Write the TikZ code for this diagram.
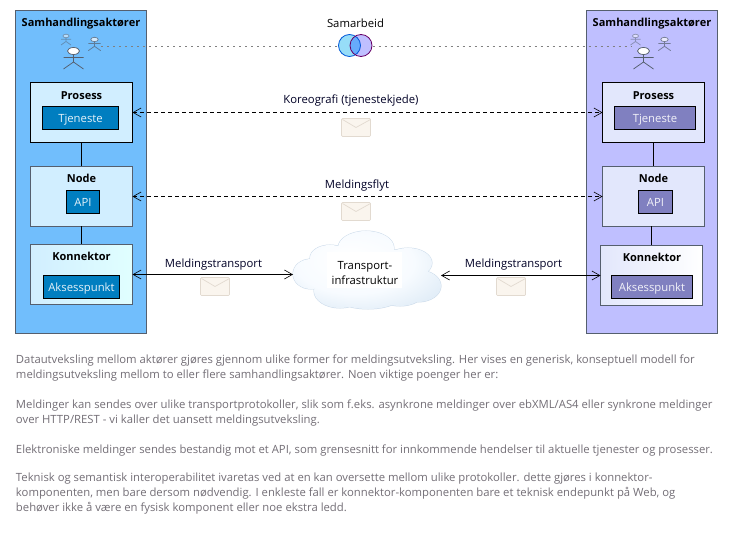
\documentclass[tikz,border=0pt]{standalone}
\usepackage{fontspec}
\setmainfont{Open Sans}
\usetikzlibrary{arrows.meta,calc,shapes.geometric}
\definecolor{lpanel}{RGB}{113,190,252}
\definecolor{rpanel}{RGB}{191,191,255}
\definecolor{lbox}{RGB}{209,238,255}
\definecolor{rbox}{RGB}{226,231,252}
\definecolor{lin}{RGB}{0,126,192}
\definecolor{rin}{RGB}{128,128,192}
\definecolor{edgegrey}{RGB}{85,95,110}
\definecolor{bodytext}{RGB}{115,110,118}
\definecolor{envfill}{RGB}{250,245,238}
\definecolor{envline}{RGB}{226,218,208}
\definecolor{cloudedge}{RGB}{205,220,235}
\pgfdeclareradialshading{cloudshade}{\pgfpoint{-7bp}{8bp}}{
  rgb(0bp)=(1,1,1);
  rgb(20bp)=(.97,.985,1);
  rgb(34bp)=(.87,.92,.965);
  rgb(50bp)=(.72,.80,.88)}
\tikzset{
  x=1pt,y=-1pt,
  every node/.style={font=\fontsize{11.3}{14}\selectfont,inner sep=0pt,outer sep=0pt},
  panel/.style={draw=edgegrey,line width=.9pt,anchor=north west},
  procbox/.style={draw=black,line width=.9pt,anchor=north west},
  softbox/.style={draw=edgegrey,line width=.9pt,anchor=north west},
  inner/.style={draw=black,line width=.8pt,anchor=north west},
  ttl/.style={font=\fontsize{11}{14}\selectfont\bfseries},
  lab/.style={text=black!85!blue,yshift=-1pt},
  lintext/.style={text=white!90!lin,anchor=base},
  rintext/.style={text=white!90!rin,anchor=base},
  barb/.tip={Straight Barb[length=8pt,width=9pt,line width=.6pt]},
  msgdash/.style={line width=.8pt,dash pattern=on 4pt off 3pt,barb-barb},
  msgsolid/.style={line width=.8pt,barb-barb},
  collab/.style={line width=.7pt,draw=black!50,dash pattern=on 2pt off 4pt},
  link/.style={line width=.8pt,draw=black},
  para/.style={anchor=north west,text=bodytext,align=left,font=\fontsize{11.3}{15}\selectfont},
}
\newcommand{\boxat}[6]{\node[#1,minimum width=#4pt,minimum height=#5pt] (#6) at (#2,#3) {};}
\newcommand{\actor}[5]{% name x ytop scale opacity
  \begin{scope}[shift={(#2,#3)},scale=#4,opacity=#5,line width=.75pt]
    \node[draw=edgegrey,fill=white,ellipse,minimum width=#4*12pt,minimum height=#4*7pt] (#1) at (0,4) {};
    \draw[edgegrey] (0,7.5) -- (0,15) (-10,10.5) -- (10,10.5) (0,15) -- (-10,22) (0,15) -- (10,22);
  \end{scope}}
\newcommand{\envelope}[3]{% name x y
  \node[draw=envline,fill=envfill,line width=.7pt,rounded corners=1pt,minimum width=29pt,minimum height=18pt,anchor=north west] (#1) at (#2,#3) {};
  \draw[envline,line width=.7pt] (#2+1,#3+1) -- (#2+14.5,#3+9) -- (#2+29,#3+1);}
\newcommand{\cloudpath}{
  (366,248) ellipse (28 and 17)
  (330,258) ellipse (20 and 13)
  (311,274) ellipse (18 and 15)
  (408,263) ellipse (24 and 15)
  (418,286) ellipse (23 and 16)
  (340,291) ellipse (26 and 17)
  (368,293) ellipse (36 and 16)
  (400,292) ellipse (24 and 14)
  (365,272) ellipse (58 and 26)}
\begin{document}
\begin{tikzpicture}
\useasboundingbox (0,0) rectangle (734,548);
\fill[white] (0,0) rectangle (734,548);

% panels
\boxat{panel,fill=lpanel}{15.5}{10.5}{131}{323}{lp}
\boxat{panel,fill=rpanel}{586.5}{10.5}{131}{323}{rp}
\node[ttl] (lt) at (81,23.5) {Samhandlingsaktører};
\node[ttl] (rt) at (652,23.5) {Samhandlingsaktører};

% actors
\actor{a1}{66}{34}{.5}{.5}
\actor{a2}{94.5}{37}{.62}{.7}
\actor{a3}{73.5}{47}{1}{1}
\actor{b1}{635.5}{34}{.5}{.5}
\actor{b2}{664.5}{37}{.62}{.7}
\actor{b3}{643.5}{47}{1}{1}

% left boxes
\boxat{procbox,fill=lbox}{30.5}{82.5}{102}{60}{lprocess}
\boxat{inner,fill=lin}{42.5}{106.5}{76}{23}{ltj}
\node[ttl] (lprocesst) at (81.5,95.5) {Prosess};
\node[lintext] (ltjt) at ($(ltj.center)+(0,4.5)$) {Tjeneste};
\boxat{softbox,fill=lbox}{30.5}{166.5}{102}{60}{lnode}
\boxat{inner,fill=lin}{66.5}{190.5}{33}{23}{lapi}
\node[ttl] (lnodet) at (81.5,178.5) {Node};
\node[lintext] (lapit) at ($(lapi.center)+(0,4.5)$) {API};
\shade[left color=lbox,right color=white!88!cyan] (30.5,244.5) rectangle (132.5,304.5);
\node[softbox,minimum width=102pt,minimum height=60pt] (lkon) at (30.5,244.5) {};
\boxat{inner,fill=lin}{43.5}{275.5}{76}{23}{lak}
\node[ttl] (lkont) at (81.5,256.5) {Konnektor};
\node[lintext] (lakt) at ($(lak.center)+(0,4.5)$) {Aksesspunkt};
\draw[link] (lprocess.south) -- (lnode.north);
\draw[link] (lnode.south) -- (lkon.north);

% right boxes
\boxat{procbox,fill=rbox}{602.5}{82.5}{102}{60}{rprocess}
\boxat{inner,fill=rin}{614.5}{106.5}{81}{23}{rtj}
\node[ttl] (rprocesst) at (653.5,95.5) {Prosess};
\node[rintext] (rtjt) at ($(rtj.center)+(0,4.5)$) {Tjeneste};
\boxat{softbox,fill=rbox}{602.5}{166.5}{102}{60}{rnode}
\boxat{inner,fill=rin}{638.5}{190.5}{34}{23}{rapi}
\node[ttl] (rnodet) at (653.5,178.5) {Node};
\node[rintext] (rapit) at ($(rapi.center)+(0,4.5)$) {API};
\shade[left color=rbox,right color=white] (600.5,245.5) rectangle (702.5,305.5);
\node[softbox,minimum width=102pt,minimum height=60pt] (rkon) at (600.5,245.5) {};
\boxat{inner,fill=rin}{611.5}{275.5}{81}{23}{rak}
\node[ttl] (rkont) at (652,257.5) {Konnektor};
\node[rintext] (rakt) at ($(rak.center)+(0,4.5)$) {Aksesspunkt};
\draw[link] (rprocess.south) -- (rnode.north);
\draw[link] (rnode.south -| rkon.north) -- (rkon.north);

% collaboration
\fill[cyan!45!white,opacity=.9] (349.5,45.5) circle (11);
\fill[rpanel] (361,45.5) circle (11);
\begin{scope}
  \clip (349.5,45.5) circle (11);
  \fill[lpanel!90!blue] (361,45.5) circle (11);
\end{scope}
\draw[blue!60!cyan!85!black,line width=.8pt] (349.5,45.5) circle (11);
\draw[violet!80!black,line width=.8pt] (361,45.5) circle (11);
\coordinate (cl) at (338,46);
\coordinate (cr) at (372.5,46);
\node[yshift=-1pt] (samarbeid) at (355.5,22) {Samarbeid};
\coordinate (ca2) at (101,46);
\coordinate (cb1) at (632,46);
\draw[collab] (ca2) -- (cl);
\draw[collab] (cr) -- (cb1);

% cloud
\draw[draw=cloudedge,fill=cloudedge,line width=1pt] \cloudpath;
\shade[shading=cloudshade] \cloudpath;
\fill[white] (327,252) rectangle (402,288);
\node[align=center,font=\fontsize{11.3}{15.5}\selectfont] (cloud) at (365,273) {Transport-\\infrastruktur};
\coordinate (cloudl) at (293,274.5);
\coordinate (cloudr) at (441,275.5);

% messages
\draw[msgdash] (lprocess.east) -- (rprocess.west);
\draw[msgdash] (lnode.east) -- (rnode.west);
\draw[msgsolid] (lkon.east) -- (cloudl);
\draw[msgsolid] (cloudr) -- (rkon.west);
\node[lab] (m1) at (351,100) {Koreografi (tjenestekjede)};
\node[lab] (m2) at (357,185) {Meldingsflyt};
\node[lab] (m3) at (213.5,264) {Meldingstransport};
\node[lab] (m4) at (513.5,264) {Meldingstransport};
\envelope{e1}{341.5}{118.5}
\envelope{e2}{341.5}{202.5}
\envelope{e3}{200.5}{277.5}
\envelope{e4}{496.5}{277.5}

% text
\node[para] (p1) at (16,355) {Datautveksling mellom aktører gjøres gjennom ulike former for meldingsutveksling. Her vises en generisk, konseptuell modell for\\meldingsutveksling mellom to eller flere samhandlingsaktører. Noen viktige poenger her er:};
\node[para] (p2) at (16,400) {Meldinger kan sendes over ulike transportprotokoller, slik som f.eks. asynkrone meldinger over ebXML/AS4 eller synkrone meldinger\\over HTTP/REST - vi kaller det uansett meldingsutveksling.};
\node[para] (p3) at (16,445) {Elektroniske meldinger sendes bestandig mot et API, som grensesnitt for innkommende hendelser til aktuelle tjenester og prosesser.};
\node[para] (p4) at (16,473) {Teknisk og semantisk interoperabilitet ivaretas ved at en kan oversette mellom ulike protokoller. dette gjøres i konnektor-\\komponenten, men bare dersom nødvendig. I enkleste fall er konnektor-komponenten bare et teknisk endepunkt på Web, og\\behøver ikke å være en fysisk komponent eller noe ekstra ledd.};
\end{tikzpicture}
\end{document}
